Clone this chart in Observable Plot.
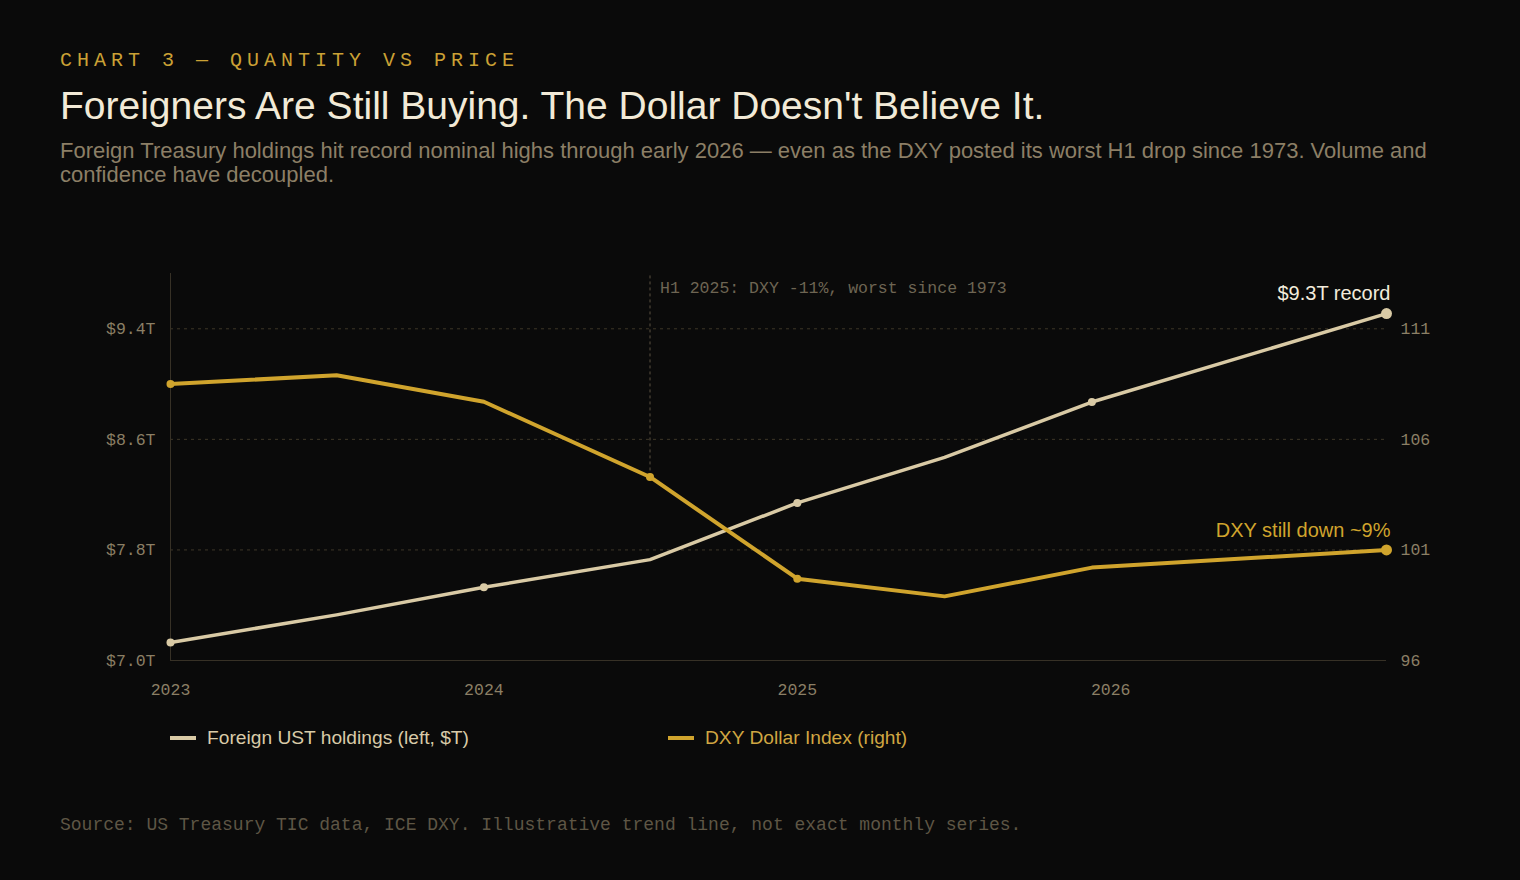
<!DOCTYPE html>
<html>
<head>
<meta charset="utf-8">
<script src="https://cdn.jsdelivr.net/npm/d3@7"></script>
<script src="https://cdn.jsdelivr.net/npm/@observablehq/plot@0.6"></script>
<style>
  html, body { margin: 0; padding: 0; background: #0a0a0a; }
  body { width: 1520px; height: 880px; position: relative; overflow: hidden; }
  .abs { position: absolute; left: 60px; white-space: nowrap; }
  #kicker { top: 49px; font: 20px/24px "Liberation Mono", monospace; letter-spacing: 0.25em; color: #cba135; }
  #title { top: 84px; font: 39px/44px "Liberation Sans", Arial, sans-serif; color: #f2ead7; }
  #subtitle { top: 139px; width: 1400px; white-space: normal; font: 22px/24px "Liberation Sans", Arial, sans-serif; color: #8c7f66; }
  #chart { top: 215px; }
  #legend { top: 726px; left: 170px; display: flex; font: 19.2px/24px "Liberation Sans", Arial, sans-serif; }
  .item { display: flex; align-items: center; }
  .item .sw { width: 26px; height: 4px; margin-right: 11px; }
  #footer { top: 813px; font: 18px/24px "Liberation Mono", monospace; color: #5e5645; }
</style>
</head>
<body>
<div id="kicker" class="abs">CHART 3 — QUANTITY VS PRICE</div>
<div id="title" class="abs">Foreigners Are Still Buying. The Dollar Doesn't Believe It.</div>
<div id="subtitle" class="abs">Foreign Treasury holdings hit record nominal highs through early 2026 — even as the DXY posted its worst H1 drop since 1973. Volume and confidence have decoupled.</div>
<div id="chart" class="abs"></div>
<div id="legend" class="abs"></div>
<div id="footer" class="abs">Source: US Treasury TIC data, ICE DXY. Illustrative trend line, not exact monthly series.</div>
<script>
// ---- data ----
const dates = [2023.0, 2023.53, 2024.0, 2024.53, 2025.0, 2025.47, 2025.94, 2026.88];
const holdings = [7.13, 7.33, 7.53, 7.73, 8.14, 8.47, 8.87, 9.51];   // $T, left axis
const dxy = [108.5, 108.9, 107.7, 104.3, 99.7, 98.9, 100.2, 101.0];  // index, right axis
const holdingsDots = [0, 2, 4, 6];
const dxyDots = [0, 3, 4];
const yearTicks = [2023, 2024, 2025, 2026];
const leftTicks = [7.0, 7.8, 8.6, 9.4];
const rightTicks = [96, 101, 106, 111];
const leftDomain = [7.0, 9.8];
const rightDomain = [96, 113.5];
const seriesNames = ["Foreign UST holdings (left, $T)", "DXY Dollar Index (right)"];
const annotationText = "H1 2025: DXY -11%, worst since 1973";
const annotationIndex = 3;
const endLabels = ["$9.3T record", "DXY still down ~9%"];

// ---- styling ----
const cHold = "#d9caa5", cDxy = "#d0a42d";
const k = (leftDomain[1] - leftDomain[0]) / (rightDomain[1] - rightDomain[0]);
const toLeft = v => leftDomain[0] + (v - rightDomain[0]) * k;
const fromLeft = v => rightDomain[0] + (v - leftDomain[0]) / k;

const rows = dates.map((d, i) => ({date: d, holdings: holdings[i], dxy: toLeft(dxy[i])}));
const last = rows[rows.length - 1];
const mono = "'Liberation Mono', monospace";
const sans = "'Liberation Sans', Arial, sans-serif";

const chart = Plot.plot({
  width: 1400,
  height: 495,
  marginLeft: 110,
  marginRight: 74,
  marginTop: 58,
  marginBottom: 50,
  style: {background: "transparent", color: "#8b7f65", fontFamily: mono, fontSize: "16.5px"},
  x: {type: "linear", domain: [dates[0], dates[dates.length - 1]], label: null},
  y: {domain: leftDomain, label: null},
  marks: [
    Plot.gridY(leftTicks.slice(1), {stroke: "#3e3728", strokeOpacity: 1, strokeDasharray: "3,4"}),
    Plot.ruleY([leftDomain[0]], {stroke: "#373126"}),
    Plot.ruleX([dates[0]], {stroke: "#373126"}),
    Plot.ruleX([rows[annotationIndex]], {x: "date", y1: "dxy", y2: leftDomain[1], stroke: "#5a5141", strokeDasharray: "3,3"}),
    Plot.text([rows[annotationIndex]], {x: "date", y: leftDomain[1], text: () => annotationText, dx: 10, dy: 14, textAnchor: "start", fill: "#6e6553"}),
    Plot.axisX({ticks: yearTicks, tickSize: 0, tickPadding: 23, tickFormat: d => String(d), fill: "#8b7f65", label: null}),
    Plot.axisY({ticks: leftTicks, anchor: "left", tickSize: 0, tickPadding: 15, tickFormat: d => `$${d.toFixed(1)}T`, fill: "#8b7f65", label: null}),
    Plot.axisY({ticks: rightTicks.map(toLeft), anchor: "right", tickSize: 0, tickPadding: 14, tickFormat: d => String(Math.round(fromLeft(d))), fill: "#8b7f65", label: null}),
    Plot.line(rows, {x: "date", y: "holdings", stroke: cHold, strokeWidth: 3.5}),
    Plot.line(rows, {x: "date", y: "dxy", stroke: cDxy, strokeWidth: 4}),
    Plot.dot(holdingsDots.map(i => rows[i]), {x: "date", y: "holdings", r: 4, fill: cHold}),
    Plot.dot(dxyDots.map(i => rows[i]), {x: "date", y: "dxy", r: 4, fill: cDxy}),
    Plot.dot([last], {x: "date", y: "holdings", r: 5.5, fill: cHold}),
    Plot.dot([last], {x: "date", y: "dxy", r: 5.5, fill: cDxy}),
    Plot.text([last], {x: "date", y: "holdings", text: () => endLabels[0], textAnchor: "end", dx: 4, dy: -20, fill: "#f3ecdc", fontFamily: sans, fontSize: 20}),
    Plot.text([last], {x: "date", y: "dxy", text: () => endLabels[1], textAnchor: "end", dx: 4, dy: -19, fill: cDxy, fontFamily: sans, fontSize: 20})
  ]
});
document.getElementById("chart").appendChild(chart);

const legend = document.getElementById("legend");
[[seriesNames[0], cHold, "#d9cba8"], [seriesNames[1], cDxy, "#d0a642"]].forEach(([name, c, tc], i) => {
  const it = document.createElement("div");
  it.className = "item";
  if (i === 0) it.style.width = "498px";
  it.innerHTML = `<span class="sw" style="background:${c}"></span><span style="color:${tc}">${name}</span>`;
  legend.appendChild(it);
});
</script>
</body>
</html>
